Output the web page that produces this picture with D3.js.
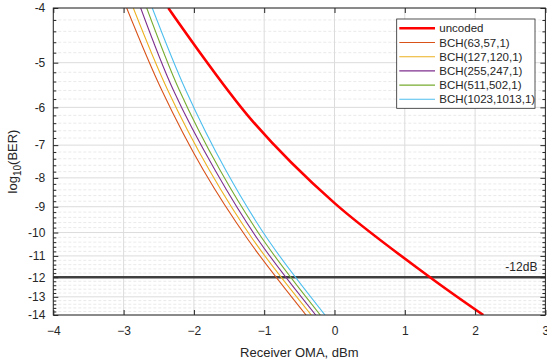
<!DOCTYPE html>
<html lang="en">
<head>
<meta charset="UTF-8">
<title>BER vs Receiver OMA</title>
<script src="https://d3js.org/d3.v7.min.js"></script>
<style>
  body { margin: 0; background: #fff; }
  svg text { font-family: "Liberation Sans", Arial, Helvetica, sans-serif; fill: #262626; }
</style>
</head>
<body>
<div id="chart"></div>
<script>
// axis ticks
const xTicks = [-4, -3, -2, -1, 0, 1, 2, 3];
const yTicks = [-4, -5, -6, -7, -8, -9, -10, -11, -12, -13, -14];

// series labels and colours
const seriesNames = ["uncoded", "BCH(63,57,1)", "BCH(127,120,1)", "BCH(255,247,1)", "BCH(511,502,1)", "BCH(1023,1013,1)"];
const seriesColors = ["#ff0000", "#d95319", "#edb120", "#7e2f8e", "#77ac30", "#4dbeee"];

// uncoded curve: receiver OMA (dBm) vs log10(BER)
const uncodedDbm = [-2.364, -1.178, -0.003, 1.358, 2.117];
const uncodedLogBer = [-4, -6.32, -8.86, -12, -14];

// BCH curves share the same log10(BER) levels
const bchLogBer = [-4, -5.59, -7.75, -10.31, -14];
const bch63 = [-2.956, -2.458, -1.866, -1.226, -0.405];
const bch127 = [-2.862, -2.373, -1.781, -1.155, -0.330];
const bch255 = [-2.757, -2.293, -1.700, -1.084, -0.267];
const bch511 = [-2.671, -2.208, -1.629, -1.013, -0.202];
const bch1023 = [-2.592, -2.117, -1.548, -0.942, -0.135];

const limitLogBer = -12;
const limitLabel = "-12dB";

const W = 547, H = 363;
const margin = { top: 8, right: 1.6, bottom: 48, left: 53.3 };
const width = W - margin.left - margin.right;
const height = H - margin.top - margin.bottom;

const svg = d3.select("#chart").append("svg")
    .attr("width", W).attr("height", H);
const g = svg.append("g").attr("transform", `translate(${margin.left},${margin.top})`);

const x = d3.scaleLinear().domain([-4, 3]).range([0, width]);
// y axis is logarithmic in -log10(BER)
const yLog = d3.scaleLog().domain([4, 14]).range([0, height]);
const y = v => yLog(-v);

// minor ticks every 0.2 decade
const minorY = [];
for (let k = 40; k <= 140; k += 2) if (k % 10 !== 0) minorY.push(-k / 10);

// grid
g.append("g").selectAll("line").data(minorY).enter().append("line")
    .attr("x1", 0).attr("x2", width)
    .attr("y1", d => y(d)).attr("y2", d => y(d))
    .attr("stroke", "#e4e4e4").attr("stroke-width", 0.8)
    .attr("stroke-dasharray", "3,2");
g.append("g").selectAll("line").data(yTicks).enter().append("line")
    .attr("x1", 0).attr("x2", width)
    .attr("y1", d => y(d)).attr("y2", d => y(d))
    .attr("stroke", "#dcdcdc").attr("stroke-width", 1);
g.append("g").selectAll("line").data(xTicks).enter().append("line")
    .attr("x1", d => x(d)).attr("x2", d => x(d))
    .attr("y1", 0).attr("y2", height)
    .attr("stroke", "#dcdcdc").attr("stroke-width", 1);

g.append("clipPath").attr("id", "clip").append("rect")
    .attr("width", width).attr("height", height);

const line = d3.line()
    .x(d => x(d[0]))
    .y(d => y(d[1]))
    .curve(d3.curveCatmullRom.alpha(0.5));

// -12 dB line
g.append("line")
    .attr("x1", 0).attr("x2", width)
    .attr("y1", y(limitLogBer)).attr("y2", y(limitLogBer))
    .attr("stroke", "#404040").attr("stroke-width", 2.5);
g.append("text")
    .attr("x", width - 8).attr("y", y(limitLogBer) - 6)
    .attr("text-anchor", "end")
    .style("font-size", "12px")
    .text(limitLabel);

const bchSeries = [bch63, bch127, bch255, bch511, bch1023];
const plot = g.append("g").attr("clip-path", "url(#clip)");
bchSeries.forEach((arr, i) => {
    plot.append("path")
        .datum(arr.map((v, j) => [v, bchLogBer[j]]))
        .attr("fill", "none")
        .attr("stroke", seriesColors[i + 1])
        .attr("stroke-width", 1.1)
        .attr("d", line);
});
plot.append("path")
    .datum(uncodedDbm.map((v, j) => [v, uncodedLogBer[j]]))
    .attr("fill", "none")
    .attr("stroke", seriesColors[0])
    .attr("stroke-width", 2.6)
    .attr("d", line);

// axes (box with inward ticks)
const axisColor = "#262626";
function styleAxis(sel) {
    sel.select(".domain").remove();
    sel.selectAll(".tick line").attr("stroke", axisColor);
    sel.selectAll("text").style("font-size", "12px").attr("fill", axisColor);
}
g.append("g").attr("transform", `translate(0,${height})`)
    .call(d3.axisBottom(x).tickValues(xTicks).tickSize(-5).tickPadding(11).tickFormat(d3.format("d")))
    .call(styleAxis);
g.append("g")
    .call(d3.axisTop(x).tickValues(xTicks).tickSize(-5).tickFormat(""))
    .call(styleAxis);
g.append("g")
    .call(d3.axisLeft(yLog).tickValues(yTicks.map(v => -v)).tickSize(-5).tickPadding(8).tickFormat(d => "-" + d))
    .call(styleAxis);
g.append("g")
    .call(d3.axisLeft(yLog).tickValues(minorY.map(v => -v)).tickSize(-3).tickFormat(""))
    .call(styleAxis);
g.append("g").attr("transform", `translate(${width},0)`)
    .call(d3.axisRight(yLog).tickValues(yTicks.map(v => -v)).tickSize(-5).tickFormat(""))
    .call(styleAxis);
g.append("g").attr("transform", `translate(${width},0)`)
    .call(d3.axisRight(yLog).tickValues(minorY.map(v => -v)).tickSize(-3).tickFormat(""))
    .call(styleAxis);
g.append("rect")
    .attr("width", width).attr("height", height)
    .attr("fill", "none").attr("stroke", axisColor).attr("stroke-width", 1);

// axis labels
g.append("text")
    .attr("x", width / 2).attr("y", height + 42)
    .attr("text-anchor", "middle")
    .style("font-size", "13px")
    .text("Receiver OMA, dBm");
const yl = g.append("text")
    .attr("transform", `translate(${-36},${height / 2}) rotate(-90)`)
    .attr("text-anchor", "middle")
    .style("font-size", "13px");
yl.append("tspan").text("log");
yl.append("tspan").attr("dy", 4).style("font-size", "10px").text("10");
yl.append("tspan").attr("dy", -4).text("(BER)");

// legend
const lg = g.append("g").attr("transform", `translate(${396.7 - margin.left},${19 - margin.top})`);
lg.append("rect")
    .attr("width", 138.3).attr("height", 89.3)
    .attr("fill", "#fff").attr("stroke", axisColor).attr("stroke-width", 0.8);
seriesNames.forEach((name, i) => {
    const row = lg.append("g").attr("transform", `translate(0,${9.3 + i * 14.2})`);
    row.append("line")
        .attr("x1", 2.6).attr("x2", 38.3)
        .attr("stroke", seriesColors[i])
        .attr("stroke-width", i === 0 ? 2.6 : 1.1);
    row.append("text")
        .attr("x", 42.6).attr("dy", "0.35em")
        .style("font-size", "11.5px")
        .text(name);
});
</script>
</body>
</html>
